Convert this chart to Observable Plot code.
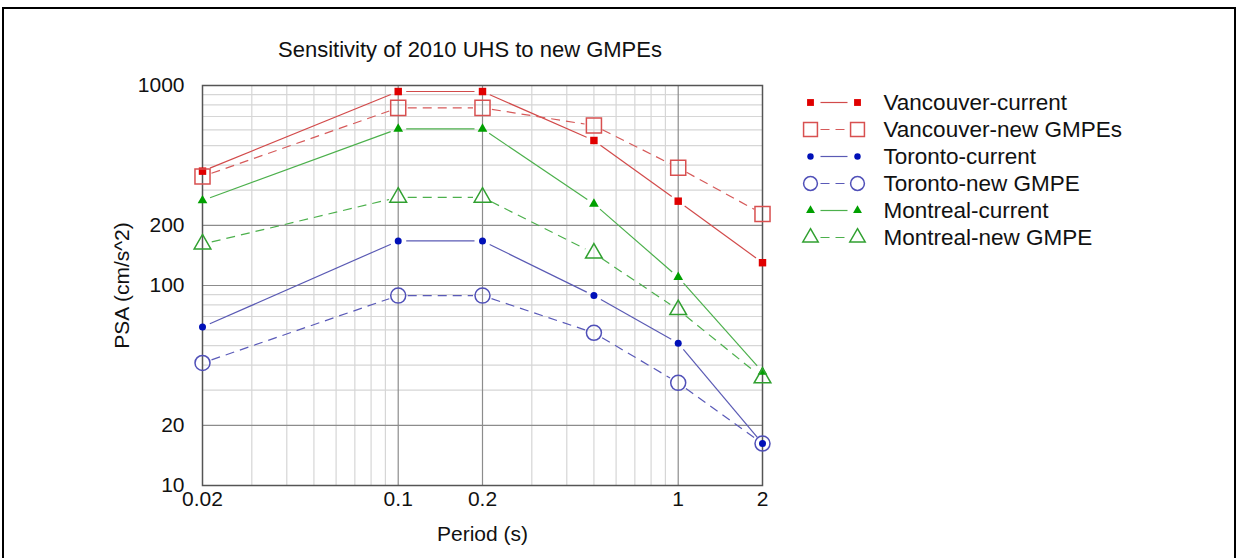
<!DOCTYPE html>
<html><head><meta charset="utf-8">
<script src="https://cdn.jsdelivr.net/npm/d3@7"></script>
<script src="https://cdn.jsdelivr.net/npm/@observablehq/plot@0.6"></script>
<style>
body{margin:0;background:#fff;font-family:"Liberation Sans",Arial,sans-serif;}
#wrap{position:relative;width:1238px;height:558px;overflow:hidden;background:#fff;}
#frame{position:absolute;left:2px;top:7px;width:1234px;height:600px;border:2px solid #000;box-sizing:border-box;}
#title{position:absolute;left:0;width:940px;top:37px;text-align:center;font-size:22px;color:#111;}
#chart{position:absolute;left:0;top:0;}
#legend{position:absolute;left:790px;top:85px;}
</style></head><body>
<div id="wrap"><div id="frame"></div><div id="chart"></div><div id="title">Sensitivity of 2010 UHS to new GMPEs</div><div id="legend"></div></div>
<script>
const periods = [0.02, 0.1, 0.2, 0.5, 1, 2];
const vancouverCurrent = [373, 933, 933, 531, 264, 130];
const vancouverNew = [351, 773, 773, 631, 388, 228];
const torontoCurrent = [62, 167, 167, 89, 51.5, 16.2];
const torontoNew = [41, 89, 89, 58, 32.6, 16.2];
const montrealCurrent = [266, 607, 607, 256, 110, 37];
const montrealNew = [161, 276, 276, 145, 75.6, 34.5];
const seriesNames = ["Vancouver-current", "Vancouver-new GMPEs", "Toronto-current", "Toronto-new GMPE", "Montreal-current", "Montreal-new GMPE"];
const xTicks = [0.02, 0.1, 0.2, 1, 2];
const yTicks = [10, 20, 100, 200, 1000];
const xMajor = [0.1, 0.2, 1];
const yMajor = [20, 100, 200];
const xMinor = [0.03, 0.04, 0.05, 0.06, 0.07, 0.08, 0.09, 0.3, 0.4, 0.5, 0.6, 0.7, 0.8, 0.9];
const yMinor = [30, 40, 50, 60, 70, 80, 90, 300, 400, 500, 600, 700, 800, 900];

const styles = [
  {values: vancouverCurrent, line: "#d24a4a", dash: null, symbol: "square", r: 4.2, fill: "#e00000", stroke: "none", gap: 8},
  {values: vancouverNew, line: "#d65a5a", dash: "9,6", symbol: "square", r: 8.5, fill: "none", stroke: "#d85050", gap: 9.5},
  {values: torontoCurrent, line: "#5a5ab4", dash: null, symbol: "circle", r: 3.5, fill: "#0010b8", stroke: "none", gap: 8},
  {values: torontoNew, line: "#5a5ab8", dash: "9,6", symbol: "circle", r: 7.5, fill: "none", stroke: "#5050b8", gap: 9.5},
  {values: montrealCurrent, line: "#4cb04c", dash: null, symbol: "triangle", r: 3.6, fill: "#00a000", stroke: "none", gap: 8},
  {values: montrealNew, line: "#4cb04c", dash: "9,6", symbol: "triangle", r: 6.2, fill: "none", stroke: "#30a030", gap: 9.5}
];

const W = 1238, H = 558, ML = 202, MR = 476, MT = 85, MB = 73;
const xDomain = [0.02, 2], yDomain = [10, 1000];
const sx = Plot.scale({x: {type: "log", domain: xDomain, range: [ML, W - MR]}});
const sy = Plot.scale({y: {type: "log", domain: yDomain, range: [H - MB, MT]}});

const seriesData = styles.map((s, k) => periods.map((p, i) => ({series: seriesNames[k], period: p, psa: s.values[i]})));

// line segments that stop short of the markers (as in the original)
function gapped(points, fx, fy, gx, gy, gap) {
  const segs = [];
  for (let i = 0; i < points.length - 1; i++) {
    const a = points[i], b = points[i + 1];
    const ax = fx.apply(gx(a)), ay = fy.apply(gy(a)), bx = fx.apply(gx(b)), by = fy.apply(gy(b));
    const dx = bx - ax, dy = by - ay, L = Math.hypot(dx, dy);
    if (L <= 2 * gap) continue;
    const ux = dx / L, uy = dy / L;
    segs.push({
      x1: fx.invert(ax + ux * gap), y1: fy.invert(ay + uy * gap),
      x2: fx.invert(bx - ux * gap), y2: fy.invert(by - uy * gap)
    });
  }
  return segs;
}

const marks = [
  Plot.ruleX(xMinor, {stroke: "#d6d6d6", strokeWidth: 1.2}),
  Plot.ruleY(yMinor, {stroke: "#d6d6d6", strokeWidth: 1.2}),
  Plot.ruleX(xMajor, {stroke: "#8c8c8c", strokeWidth: 1.2}),
  Plot.ruleY(yMajor, {stroke: "#8c8c8c", strokeWidth: 1.2}),
  Plot.frame({stroke: "#555", strokeWidth: 1.5}),
  Plot.axisX({ticks: xTicks, tickFormat: d => String(d), tickSize: 0, tickPadding: 6, label: "Period (s)", labelAnchor: "center", labelOffset: 55, labelArrow: "none", fill: "#111"}),
  Plot.axisY({ticks: yTicks, tickFormat: d => String(d), tickSize: 0, tickPadding: 18, label: "PSA (cm/s^2)", labelAnchor: "center", labelOffset: 88, labelArrow: "none", fill: "#111"})
];
styles.forEach((s, k) => {
  const segs = gapped(seriesData[k], sx, sy, d => d.period, d => d.psa, s.gap);
  marks.push(Plot.link(segs, {x1: "x1", y1: "y1", x2: "x2", y2: "y2", stroke: s.line, strokeWidth: 1.2, strokeDasharray: s.dash}));
});
styles.forEach((s, k) => {
  marks.push(Plot.dot(seriesData[k], {x: "period", y: "psa", symbol: s.symbol, r: s.r, fill: s.fill, stroke: s.stroke, strokeWidth: 1.5}));
});

const chart = Plot.plot({
  width: W, height: H,
  marginLeft: ML, marginRight: MR, marginTop: MT, marginBottom: MB,
  style: {fontFamily: "'Liberation Sans', Arial, sans-serif", fontSize: "21px", background: "transparent", color: "#111"},
  x: {type: "log", domain: xDomain},
  y: {type: "log", domain: yDomain},
  marks
});
document.getElementById("chart").appendChild(chart);

// Legend
const lx = Plot.scale({x: {type: "linear", domain: [0, 1], range: [20, 67]}});
const ly = Plot.scale({y: {type: "linear", domain: [0, 1], range: [0, 1]}});
const legendMarks = [];
styles.forEach((s, k) => {
  const pts = [{series: seriesNames[k], pos: 0}, {series: seriesNames[k], pos: 1}];
  const segs = gapped(pts, lx, ly, d => d.pos, d => 0, 10).map(g => ({x1: g.x1, x2: g.x2, series: seriesNames[k]}));
  legendMarks.push(Plot.link(segs, {x1: "x1", x2: "x2", y1: "series", y2: "series", stroke: s.line, strokeWidth: 1.2, strokeDasharray: s.dash}));
  legendMarks.push(Plot.dot(pts, {x: "pos", y: "series", symbol: s.symbol, r: s.r * 0.92, fill: s.fill, stroke: s.stroke, strokeWidth: 1.5}));
});
legendMarks.push(Plot.text(seriesNames, {x: () => 1, y: d => d, text: d => d, textAnchor: "start", dx: 26, fill: "#111"}));
const legend = Plot.plot({
  width: 430, height: 170, margin: 0,
  style: {fontFamily: "'Liberation Sans', Arial, sans-serif", fontSize: "22.5px", background: "transparent", overflow: "visible"},
  x: {domain: [0, 1], range: [20, 67], axis: null},
  y: {type: "point", domain: seriesNames, range: [15.7, 154.2], padding: 0, axis: null},
  marks: legendMarks
});
document.getElementById("legend").appendChild(legend);
</script>
</body></html>
